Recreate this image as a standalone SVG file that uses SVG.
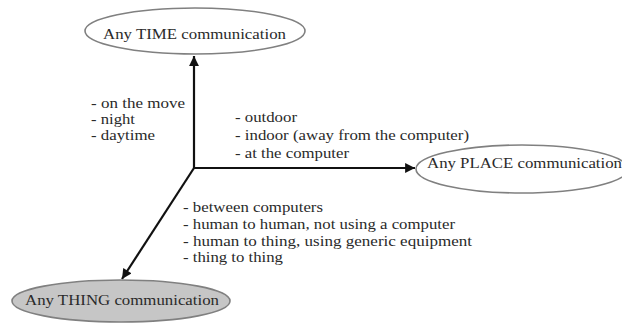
<svg xmlns="http://www.w3.org/2000/svg" width="622" height="330" viewBox="0 0 622 330">
<defs>
<style>
.t{font-family:'Liberation Serif','Times New Roman','DejaVu Serif',serif;font-size:15.5px;fill:#2a2a2a}
.s{font-size:14.4px}
.node{fill:#fff;stroke:#808080;stroke-width:1.6}
.thing{fill:#c6c6c6}
.conn{stroke:#111;stroke-width:2.2;fill:none}
</style>
<marker id="ah" viewBox="0 0 10 10" refX="10" refY="5" markerWidth="5" markerHeight="4.5" markerUnits="strokeWidth" orient="auto">
<path d="M0,0 L10,5 L0,10 z" fill="#111"/>
</marker>
</defs>
<rect width="622" height="330" fill="#fff"/>
<g id="connectors">
<line class="conn" x1="194" y1="168" x2="194" y2="56" marker-end="url(#ah)"/>
<line class="conn" x1="193" y1="168" x2="415" y2="168" marker-end="url(#ah)"/>
<line class="conn" x1="194" y1="168" x2="122" y2="279" marker-end="url(#ah)"/>
</g>
<g id="time">
<ellipse class="node" cx="195" cy="31" rx="110" ry="23"/>
<text class="t" x="103" y="39" textLength="183" lengthAdjust="spacingAndGlyphs">Any TIME communication</text>
</g>
<g id="place">
<ellipse class="node" cx="522" cy="169" rx="106" ry="24"/>
<text class="t" x="427" y="168" textLength="195" lengthAdjust="spacingAndGlyphs">Any PLACE communication</text>
</g>
<g id="thing">
<ellipse class="node thing" cx="121" cy="301" rx="109" ry="21"/>
<text class="t" x="25" y="305" textLength="194" lengthAdjust="spacingAndGlyphs">Any THING communication</text>
</g>
<g id="time-labels">
<text class="t s" x="91" y="108" textLength="94" lengthAdjust="spacingAndGlyphs">- on the move</text>
<text class="t s" x="91" y="124" textLength="44" lengthAdjust="spacingAndGlyphs">- night</text>
<text class="t s" x="91" y="140" textLength="64" lengthAdjust="spacingAndGlyphs">- daytime</text>
</g>
<g id="place-labels">
<text class="t" x="235" y="122" textLength="62" lengthAdjust="spacingAndGlyphs">- outdoor</text>
<text class="t" x="235" y="140" textLength="234" lengthAdjust="spacingAndGlyphs">- indoor (away from the computer)</text>
<text class="t" x="235" y="158" textLength="114" lengthAdjust="spacingAndGlyphs">- at the computer</text>
</g>
<g id="thing-labels">
<text class="t" x="183" y="212" textLength="140" lengthAdjust="spacingAndGlyphs">- between computers</text>
<text class="t" x="183" y="229" textLength="272" lengthAdjust="spacingAndGlyphs">- human to human, not using a computer</text>
<text class="t" x="183" y="246" textLength="289" lengthAdjust="spacingAndGlyphs">- human to thing, using generic equipment</text>
<text class="t" x="183" y="262" textLength="100" lengthAdjust="spacingAndGlyphs">- thing to thing</text>
</g>
</svg>
